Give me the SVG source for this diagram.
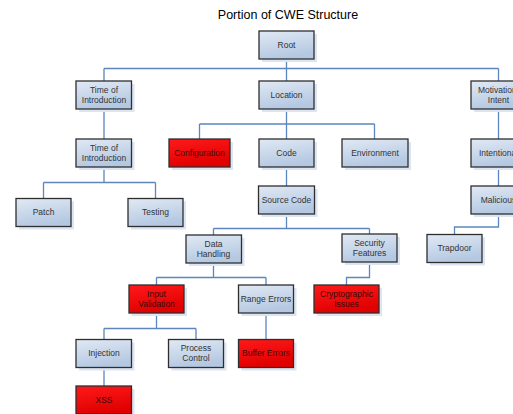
<svg xmlns="http://www.w3.org/2000/svg" width="513" height="414" viewBox="0 0 513 414">
<defs>
<linearGradient id="gb" x1="0" y1="0" x2="0.3" y2="1">
<stop offset="0" stop-color="#e1e9f4"/>
<stop offset="1" stop-color="#b4c8e2"/>
</linearGradient>
<linearGradient id="gr" x1="0" y1="0" x2="0.3" y2="1">
<stop offset="0" stop-color="#ff1a1a"/>
<stop offset="1" stop-color="#e00000"/>
</linearGradient>
<style>
.b{fill:url(#gb);stroke:#2e2e2e;stroke-width:1.3}
.r{fill:url(#gr);stroke:#2e2e2e;stroke-width:1.3}
.s{fill:#dde5f0}
.t{font-family:"Liberation Sans",Arial,sans-serif;font-size:8.5px;fill:#333;text-anchor:middle}
.tr{fill:#3a0a0a}
.c{fill:none;stroke:#5b86bf;stroke-width:1.3}
</style>
</defs>
<rect width="513" height="414" fill="#fff"/>
<text x="288" y="18.5" style="font-family:'Liberation Sans',Arial,sans-serif;font-size:12.5px;fill:#000;text-anchor:middle">Portion of CWE Structure</text>

<g id="connectors">
<path class="c" d="M286.5 59V68.5M104 68.5H498.5M104 68.5V81M286.5 68.5V81M498.5 68.5V81"/>
<path class="c" d="M104 109V139"/>
<path class="c" d="M286.5 109V124M199.5 124H374.5M199.5 124V139M286.5 124V139M374.5 124V139"/>
<path class="c" d="M104 167V182.5M43.5 182.5H155.5M43.5 182.5V198.5M155.5 182.5V198.5"/>
<path class="c" d="M286.5 167V186"/>
<path class="c" d="M498.5 109V139M498.5 167V186"/>
<path class="c" d="M498.5 214V227H454.5V234.5"/>
<path class="c" d="M286.5 214V228.5M213.5 228.5H369.5M213.5 228.5V235M369.5 228.5V234"/>
<path class="c" d="M213.5 263.5V277.5M156.5 277.5H266M156.5 277.5V285M266 277.5V285"/>
<path class="c" d="M369.5 262.5V277.5H346.5V285"/>
<path class="c" d="M156.5 313V328.5M104 328.5H196M104 328.5V339.5M196 328.5V339.5"/>
<path class="c" d="M266 313V339.5"/>
<path class="c" d="M104 367.5V386"/>
</g>

<g id="root"><rect class="s" x="262" y="34" width="55" height="28"/><rect class="b" x="259" y="31" width="55" height="28"/><text class="t" x="286.5" y="47.5">Root</text></g>
<g id="time1"><rect class="s" x="79" y="84" width="55.5" height="28"/><rect class="b" x="76" y="81" width="55.5" height="28"/><text class="t" x="104" y="92.5">Time of</text><text class="t" x="104" y="102.5">Introduction</text></g>
<g id="location"><rect class="s" x="262" y="84" width="55" height="28"/><rect class="b" x="259" y="81" width="55" height="28"/><text class="t" x="286.5" y="97.5">Location</text></g>
<g id="motivation"><rect class="s" x="474" y="84" width="55" height="28"/><rect class="b" x="471" y="81" width="55" height="28"/><text class="t" x="498.5" y="92.5">Motivation/</text><text class="t" x="498.5" y="102.5">Intent</text></g>
<g id="time2"><rect class="s" x="79" y="142" width="55.5" height="28"/><rect class="b" x="76" y="139" width="55.5" height="28"/><text class="t" x="104" y="150.5">Time of</text><text class="t" x="104" y="160.5">Introduction</text></g>
<g id="configuration"><rect class="s" x="172" y="142" width="61" height="28"/><rect class="r" x="169" y="139" width="61" height="28"/><text class="t tr" x="199.5" y="155.5">Configuration</text></g>
<g id="code"><rect class="s" x="262" y="142" width="55" height="28"/><rect class="b" x="259" y="139" width="55" height="28"/><text class="t" x="286.5" y="155.5">Code</text></g>
<g id="environment"><rect class="s" x="345" y="142" width="66" height="28"/><rect class="b" x="342" y="139" width="66" height="28"/><text class="t" x="375" y="155.5">Environment</text></g>
<g id="intentional"><rect class="s" x="474" y="142" width="55" height="28"/><rect class="b" x="471" y="139" width="55" height="28"/><text class="t" x="498.5" y="155.5">Intentional</text></g>
<g id="patch"><rect class="s" x="19" y="201.5" width="55" height="28"/><rect class="b" x="16" y="198.5" width="55" height="28"/><text class="t" x="43.5" y="215">Patch</text></g>
<g id="testing"><rect class="s" x="131" y="201.5" width="55" height="28"/><rect class="b" x="128" y="198.5" width="55" height="28"/><text class="t" x="155.5" y="215">Testing</text></g>
<g id="sourcecode"><rect class="s" x="261.5" y="189" width="56" height="28"/><rect class="b" x="258.5" y="186" width="56" height="28"/><text class="t" x="286.5" y="202.5">Source Code</text></g>
<g id="malicious"><rect class="s" x="474" y="189" width="55" height="28"/><rect class="b" x="471" y="186" width="55" height="28"/><text class="t" x="498.5" y="202.5">Malicious</text></g>
<g id="datahandling"><rect class="s" x="189" y="238" width="55.5" height="28"/><rect class="b" x="186" y="235" width="55.5" height="28"/><text class="t" x="213.5" y="246.5">Data</text><text class="t" x="213.5" y="256.5">Handling</text></g>
<g id="security"><rect class="s" x="345" y="237" width="55" height="28"/><rect class="b" x="342" y="234" width="55" height="28"/><text class="t" x="369.5" y="245.5">Security</text><text class="t" x="369.5" y="255.5">Features</text></g>
<g id="trapdoor"><rect class="s" x="430" y="237.5" width="55" height="28"/><rect class="b" x="427" y="234.5" width="55" height="28"/><text class="t" x="454.5" y="251">Trapdoor</text></g>
<g id="inputvalidation"><rect class="s" x="132" y="288" width="55" height="28"/><rect class="r" x="129" y="285" width="55" height="28"/><text class="t tr" x="156.5" y="296.5">Input</text><text class="t tr" x="156.5" y="306.5">Validation</text></g>
<g id="rangeerrors"><rect class="s" x="241.5" y="288" width="55" height="28"/><rect class="b" x="238.5" y="285" width="55" height="28"/><text class="t" x="266" y="301.5">Range Errors</text></g>
<g id="crypto"><rect class="s" x="317" y="288" width="65" height="28"/><rect class="r" x="314" y="285" width="65" height="28"/><text class="t tr" x="346.5" y="296.5">Cryptographic</text><text class="t tr" x="346.5" y="306.5">Issues</text></g>
<g id="injection"><rect class="s" x="79" y="342.5" width="55.5" height="28"/><rect class="b" x="76" y="339.5" width="55.5" height="28"/><text class="t" x="104" y="356">Injection</text></g>
<g id="processcontrol"><rect class="s" x="171.5" y="342.5" width="55" height="28"/><rect class="b" x="168.5" y="339.5" width="55" height="28"/><text class="t" x="196" y="351">Process</text><text class="t" x="196" y="361">Control</text></g>
<g id="buffererrors"><rect class="s" x="241.5" y="342.5" width="55" height="28"/><rect class="r" x="238.5" y="339.5" width="55" height="28"/><text class="t tr" x="266" y="356">Buffer Errors</text></g>
<g id="xss"><rect class="s" x="79" y="389" width="55.5" height="28"/><rect class="r" x="76" y="386" width="55.5" height="28"/><text class="t tr" x="104" y="402.5">XSS</text></g>
</svg>
